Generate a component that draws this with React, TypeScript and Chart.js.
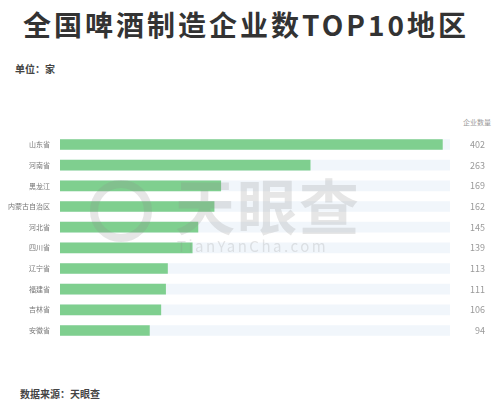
import React, { useEffect, useRef } from "react";
import { Chart, registerables } from "chart.js";

Chart.register(...registerables);

const categories = ["山东省", "河南省", "黑龙江", "内蒙古自治区", "河北省", "四川省", "辽宁省", "福建省", "吉林省", "安徽省"];
const values = [402, 263, 169, 162, 145, 139, 113, 111, 106, 94];
const trackMax = 410;
const tracks = categories.map(() => trackMax);

const FONT = "'Noto Sans CJK SC', 'Noto Sans', sans-serif";

const valuePlugin = {
  id: "valueLabels",
  afterDraw(chart: any) {
    const { ctx } = chart;
    const meta = chart.getDatasetMeta(1);
    ctx.save();
    ctx.font = `9px ${FONT}`;
    ctx.fillStyle = "#999";
    ctx.textAlign = "right";
    ctx.textBaseline = "middle";
    meta.data.forEach((bar: any, i: number) => {
      ctx.fillText(String(chart.data.datasets[1].data[i]), 485, bar.y);
    });
    ctx.restore();
  },
};

export default function App() {
  const ref = useRef<HTMLCanvasElement>(null);
  useEffect(() => {
    const chart = new Chart(ref.current!, {
      type: "bar",
      data: {
        labels: categories,
        datasets: [
          { data: tracks, backgroundColor: "#f1f6fb", barThickness: 10, grouped: false, order: 2 } as any,
          { data: values, backgroundColor: "#7fcf8f", barThickness: 10, grouped: false, order: 1 } as any,
        ],
      },
      options: {
        indexAxis: "y",
        animation: false,
        responsive: false,
        maintainAspectRatio: false,
        layout: { padding: { left: 0, right: 50, top: 0, bottom: 0 } },
        plugins: { legend: { display: false }, tooltip: { enabled: false } },
        scales: {
          x: { display: false, min: 0, max: trackMax },
          y: {
            grid: { display: false, drawTicks: false },
            border: { display: false },
            ticks: { color: "#777", font: { size: 7, family: FONT }, padding: 10 },
            afterFit: (s: any) => { s.width = 60; },
          },
        },
      },
      plugins: [valuePlugin],
    });
    return () => chart.destroy();
  }, []);

  return (
    <div style={{ position: "fixed", left: 0, top: 0, width: 500, height: 403, background: "#fff", fontFamily: FONT }}>
      <div style={{ position: "absolute", left: 0, width: 492, top: 4, textAlign: "center", fontSize: 28, fontWeight: 700, color: "#333", letterSpacing: 3, lineHeight: "40px" }}>
        全国啤酒制造企业数TOP10地区
      </div>
      <div style={{ position: "absolute", left: 15, top: 61, fontSize: 10, fontWeight: 700, color: "#444" }}>单位：家</div>
      <div style={{ position: "absolute", left: 463, top: 117, fontSize: 7, color: "#999" }}>企业数量</div>
      <canvas ref={ref} width={500} height={235} style={{ position: "absolute", left: 0, top: 120, width: 500, height: 235 }} />
      <div style={{ position: "absolute", left: 90, top: 180, width: 62, height: 62, borderRadius: "50%", border: "8px solid rgba(140,140,140,0.22)", boxSizing: "border-box", pointerEvents: "none" }} />
      <div style={{ position: "absolute", left: 175, top: 164, fontSize: 60, fontWeight: 700, color: "rgba(140,140,140,0.22)", letterSpacing: 2, lineHeight: "80px", pointerEvents: "none" }}>天眼查</div>
      <div style={{ position: "absolute", left: 177, top: 236, fontSize: 15, color: "rgba(140,140,140,0.22)", letterSpacing: 2.5, lineHeight: "20px", pointerEvents: "none" }}>TianYanCha.com</div>
      <div style={{ position: "absolute", left: 20, top: 386, fontSize: 10, fontWeight: 700, color: "#444" }}>数据来源：天眼查</div>
    </div>
  );
}
